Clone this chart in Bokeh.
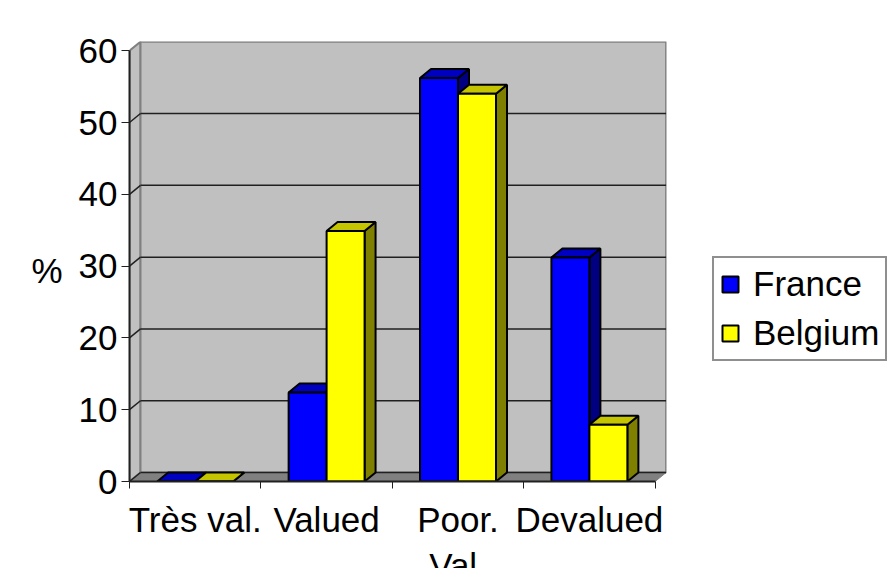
from bokeh.embed import file_html
from bokeh.resources import INLINE
from bokeh.plotting import figure
from bokeh.models import (ColumnDataSource, FixedTicker, Legend, LegendItem, LinearAxis, Range1d)

# Survey results by category
categories = ["Très val.", "Valued", "Poor.\nVal.", "Devalued"]
france = [0, 12.4, 56.2, 31.2]
belgium = [0, 34.9, 54.0, 7.9]
y_ticks = [0, 10, 20, 30, 40, 50, 60]
unit_label = "%"

# Oblique projection used to fake the 3D look, in data units
DX = 0.0837
DY = 1.25
BAR_W = 0.289
N = len(categories)

FONT = "Liberation Sans"
SIZE = "35px"

p = figure(frame_width=537, frame_height=440, min_border_left=129, min_border_right=10,
           min_border_top=41, min_border_bottom=87, output_backend="svg", toolbar_location=None,
           x_range=Range1d(0, 537 / 131.4), y_range=Range1d(0, 440 / 7.18),
           background_fill_color="white", border_fill_color="white", outline_line_color=None)
p.grid.visible = False

# Walls and floor
top = y_ticks[-1]
p.patch([0, DX, DX, 0], [0, DY, top + DY, top], fill_color="#C0C0C0", line_color="#808080", line_width=2)
p.patch([DX, N + DX, N + DX, DX], [DY, DY, top + DY, top + DY], fill_color="#C0C0C0",
        line_color="#808080", line_width=2)
p.patch([0, N, N + DX, DX], [0, 0, DY, DY], fill_color="#808080", line_color="#808080", line_width=1)

# Gridlines on the back wall and their returns on the side wall
inner = y_ticks[:-1]
p.segment([DX] * len(inner), [v + DY for v in inner], [N + DX] * len(inner), [v + DY for v in inner],
          line_color="#202020", line_width=1.5)
p.segment([0] * len(inner), inner, [DX] * len(inner), [v + DY for v in inner],
          line_color="#202020", line_width=1.5)


def draw_series(values, offset, front, top_face, side_face):
    """Draw one bar per category: top and side parallelograms, then the front face."""
    for i, v in enumerate(values):
        x0 = i + 0.5 + offset * BAR_W
        x1 = x0 + BAR_W
        p.patch([x1, x1 + DX, x1 + DX, x1], [0, DY, v + DY, v], fill_color=side_face,
                line_color="black", line_width=2)
        p.patch([x0, x1, x1 + DX, x0 + DX], [v, v, v + DY, v + DY], fill_color=top_face,
                line_color="black", line_width=2)
    src = ColumnDataSource(dict(
        left=[i + 0.5 + offset * BAR_W for i in range(N)],
        right=[i + 0.5 + (offset + 1) * BAR_W for i in range(N)],
        top=values, bottom=[0] * N))
    return p.quad(left="left", right="right", top="top", bottom="bottom", source=src,
                  fill_color=front, line_color="black", line_width=2)


# Bars are painted series by series inside each group so nearer faces overlap correctly
r_fr = draw_series(france, -1, "#0000FF", "#0000C0", "#000080")
r_be = draw_series(belgium, 0, "#FFFF00", "#C4C400", "#808000")

# Axes
xa = p.xaxis[0]
xa.ticker = FixedTicker(ticks=[i + 0.5 for i in range(N)], minor_ticks=list(range(N + 1)))
xa.major_label_overrides = {i + 0.5: c for i, c in enumerate(categories)}
xa.bounds = (0, N)
xa.major_tick_out = 0
xa.major_tick_in = 0
xa.minor_tick_out = 7
xa.minor_tick_in = 0
xa.minor_tick_line_color = "#202020"
xa.axis_line_color = "#202020"
xa.axis_line_width = 2
xa.major_label_text_font = FONT
xa.major_label_text_font_size = SIZE
xa.major_label_text_color = "black"
xa.major_label_standoff = 11

ya = p.yaxis[0]
ya.ticker = FixedTicker(ticks=y_ticks, minor_ticks=[])
ya.bounds = (0, top)
ya.major_tick_out = 8
ya.major_tick_in = 0
ya.major_tick_line_color = "#202020"
ya.axis_line_color = "#202020"
ya.axis_line_width = 2
ya.major_label_text_font = FONT
ya.major_label_text_font_size = SIZE
ya.major_label_text_color = "black"
ya.major_label_standoff = 4

# The unit sits a little below the middle of the value axis, so it gets its own bare axis
UNIT_Y = 29.4
unit_axis = LinearAxis(ticker=FixedTicker(ticks=[UNIT_Y], minor_ticks=[]),
                       major_label_overrides={UNIT_Y: unit_label},
                       axis_line_color=None, major_tick_line_color=None, minor_tick_line_color=None,
                       major_tick_out=0, major_tick_in=0, major_label_standoff=13,
                       major_label_text_font=FONT, major_label_text_font_size=SIZE,
                       major_label_text_color="black")
p.add_layout(unit_axis, "left")

legend = Legend(items=[LegendItem(label="France", renderers=[r_fr]),
                       LegendItem(label="Belgium", renderers=[r_be])],
                location=(46, 120), orientation="vertical", padding=6, margin=0, spacing=9,
                glyph_width=20, glyph_height=20, label_standoff=13,
                label_text_font=FONT, label_text_font_size=SIZE, label_text_color="black",
                label_height=28, border_line_color="#202020", border_line_width=2,
                background_fill_color="white", background_fill_alpha=1)
p.add_layout(legend, "right")

open("out.html", "w").write(file_html(p, INLINE))
